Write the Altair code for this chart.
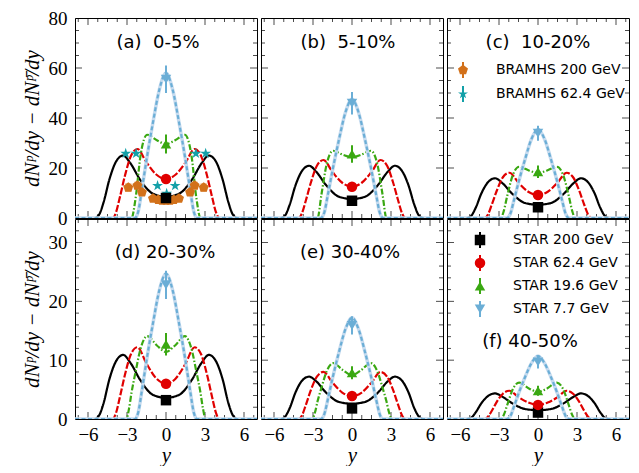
import altair as alt
import pandas as pd

panel_ids = ["a", "b", "c", "d", "e", "f"]
panel_text = ["(a)\u00a0 0-5%", "(b)\u00a0 5-10%", "(c)\u00a0 10-20%",
              "(d) 20-30%", "(e) 30-40%", "(f) 40-50%"]
energies = ["200", "62.4", "19.6", "7.7"]

knots_200 = [0, 1, 2, 2.75, 3.3, 3.85, 4.35, 4.8, 5.15, 5.5, 7]
curve_200 = [
    [8.5, 9.7, 15.4, 22.0, 25.0, 22.5, 15.5, 6.3, 1.3, 0, 0],
    [7.6, 8.5, 13.2, 18.5, 20.9, 18.8, 13.0, 5.2, 1.0, 0, 0],
    [5.3, 6.0, 9.8, 14.0, 15.9, 14.3, 9.9, 4.0, 0.8, 0, 0],
    [3.6, 4.1, 6.7, 9.6, 10.9, 9.8, 6.8, 2.7, 0.6, 0, 0],
    [2.6, 2.9, 4.5, 6.4, 7.2, 6.5, 4.5, 1.8, 0.4, 0, 0],
    [1.5, 1.7, 2.7, 3.8, 4.35, 3.9, 2.7, 1.1, 0.2, 0, 0],
]
knots_62 = [0, 0.75, 1.5, 2.2, 2.7, 3.15, 3.55, 3.85, 4.1, 7]
curve_62 = [
    [15.6, 17.4, 22.2, 27.6, 24.8, 17.1, 8.3, 2.2, 0, 0],
    [12.5, 14.1, 18.4, 23.2, 20.9, 14.4, 7.0, 1.9, 0, 0],
    [9.2, 10.5, 14.1, 18.1, 16.3, 11.2, 5.4, 1.4, 0, 0],
    [6.0, 6.9, 9.4, 12.2, 11.0, 7.6, 3.7, 1.0, 0, 0],
    [3.9, 4.5, 6.2, 8.0, 7.2, 5.0, 2.4, 0.6, 0, 0],
    [2.4, 2.8, 3.7, 4.8, 4.3, 3.0, 1.4, 0.4, 0, 0],
]
knots_19 = [0, 0.7, 1.45, 1.95, 2.35, 2.65, 2.85, 3.05, 7]
curve_19 = [
    [29.6, 31.1, 33.3, 25.3, 7.5, 0, 0, 0, 0],
    [24.3, 25.3, 26.9, 21.5, 9.4, 0, 0, 0, 0],
    [18.0, 19.0, 20.5, 17.0, 9.2, 2.5, 0, 0, 0],
    [11.4, 12.5, 14.1, 12.0, 7.9, 4.5, 1.7, 0, 0],
    [7.45, 8.3, 9.5, 8.1, 5.3, 3.0, 1.1, 0, 0],
    [4.6, 5.2, 6.2, 5.0, 2.5, 0.6, 0, 0, 0],
]
knots_7 = [0, 0.5, 1.0, 1.5, 1.85, 2.15, 2.4, 7]
curve_7 = [
    [58, 51.6, 38.3, 23.2, 11.6, 2.3, 0, 0],
    [47.5, 42.3, 31.4, 19.0, 9.5, 1.9, 0, 0],
    [35.5, 31.6, 23.4, 14.2, 7.1, 1.4, 0, 0],
    [24.7, 22.0, 16.3, 9.9, 4.9, 1.0, 0, 0],
    [17.2, 15.3, 11.4, 6.9, 3.4, 0.7, 0, 0],
    [10.7, 9.5, 7.1, 4.3, 2.1, 0.4, 0, 0],
]

# STAR points at y = 0
star_200 = [8.0, 6.9, 4.3, 3.2, 1.8, 1.1]
star_200_err = [0.5, 0.5, 0.4, 0.3, 0.2, 0.15]
star_62 = [15.6, 12.5, 9.2, 6.0, 3.9, 2.4]
star_62_err = [1.0, 0.8, 0.6, 0.4, 0.3, 0.2]
star_19 = [29.6, 25.6, 18.5, 12.7, 7.85, 4.8]
star_19_err = [3.8, 3.5, 2.5, 1.9, 1.1, 0.85]
star_7 = [55.5, 45.9, 33.9, 22.8, 15.9, 9.7]
star_7_err = [5.5, 4.5, 3.0, 2.4, 1.55, 1.1]

# BRAHMS, 0-5% only
brahms200_x = [-2.9, -2.2, -1.85, -1.0, -0.6, -0.3, 0.0, 0.3, 0.6, 1.0, 1.85, 2.2, 2.9]
brahms200_y = [12.2, 13.0, 10.3, 7.8, 7.3, 7.0, 7.0, 7.0, 7.3, 7.8, 10.3, 13.0, 12.2]
brahms200_sys = [1.8, 1.6, 1.5, 1.0, 1.0, 1.0, 1.0, 1.0, 1.0, 1.0, 1.5, 1.6, 1.8]
brahms62_x = [-3.1, -2.3, -0.65, 0.05, 0.7, 2.3, 3.05]
brahms62_y = [25.8, 25.8, 12.9, 9.8, 12.9, 25.8, 25.8]

x_major = [-6, -3, 0, 3, 6]
x_minor = [-6.75, -5.25, -4.5, -3.75, -2.25, -1.5, -0.75,
           0.75, 1.5, 2.25, 3.75, 4.5, 5.25, 6.75]
y_major_top = [0, 20, 40, 60, 80]
y_minor_top = [5, 10, 15, 25, 30, 35, 45, 50, 55, 65, 70, 75]
y_major_bot = [0, 10, 20, 30]
y_minor_bot = [2, 4, 6, 8, 12, 14, 16, 18, 22, 24, 26, 28, 32]

colors = {"200": "#000000", "62.4": "#e00000", "19.6": "#3aa812", "7.7": "#6baed6"}
dashes = {"200": [1, 0], "62.4": [7, 2], "19.6": [6, 2, 1.5, 2], "7.7": [4, 2.5]}
shapes = {"200": "square", "62.4": "circle", "19.6": "triangle-up", "7.7": "triangle-down"}
orange = "#d2711a"
teal = "#13a0a8"
pentagon = "M0,-1L0.951,-0.309L0.588,0.809L-0.588,0.809L-0.951,-0.309Z"
star = ("M0,-1L0.2245,-0.309L0.951,-0.309L0.363,0.118L0.588,0.809L0,0.382"
        "L-0.588,0.809L-0.363,0.118L-0.951,-0.309L-0.2245,-0.309Z")

ytitle = "dNᵖ/dy − dNᵖ̄/dy"
W, H = 182, 200

rows = []
for e, knots, table in [("200", knots_200, curve_200), ("62.4", knots_62, curve_62),
                        ("19.6", knots_19, curve_19), ("7.7", knots_7, curve_7)]:
    for p, vals in zip(panel_ids, table):
        for k, v in zip(knots[::-1], vals[::-1]):
            if k > 0:
                rows.append({"panel": p, "energy": e, "x": -k, "val": v})
        for k, v in zip(knots, vals):
            rows.append({"panel": p, "energy": e, "x": k, "val": v})
curves = pd.DataFrame(rows)

star_rows = []
for e, vals, errs in [("200", star_200, star_200_err), ("62.4", star_62, star_62_err),
                      ("19.6", star_19, star_19_err), ("7.7", star_7, star_7_err)]:
    for p, v, s in zip(panel_ids, vals, errs):
        star_rows.append({"panel": p, "energy": e, "x": 0.0, "val": v,
                          "lo": v - s, "hi": v + s})
stars = pd.DataFrame(star_rows)

b200 = pd.DataFrame({"x": brahms200_x, "val": brahms200_y,
                     "x0": [x - 0.25 for x in brahms200_x],
                     "x1": [x + 0.25 for x in brahms200_x],
                     "lo": [y - s for y, s in zip(brahms200_y, brahms200_sys)],
                     "hi": [y + s for y, s in zip(brahms200_y, brahms200_sys)]})
b62 = pd.DataFrame({"x": brahms62_x, "val": brahms62_y})

xticks = pd.DataFrame({"pos": x_major + x_minor,
                       "len": [14] * len(x_major) + [8] * len(x_minor)})


def panel(i):
    p = panel_ids[i]
    top = i < 3
    left = i % 3 == 0
    ymax = 80 if top else 34
    xsc = alt.Scale(domain=[-7, 7], nice=False, zero=False)
    ysc = alt.Scale(domain=[0, ymax], nice=False)
    ymaj = y_major_top if top else y_major_bot
    ymin = y_minor_top if top else y_minor_bot
    yticks = pd.DataFrame({"pos": ymaj + ymin,
                           "len": [14] * len(ymaj) + [8] * len(ymin)})

    def X(f):
        if top:
            return alt.X(f, type="quantitative", scale=xsc, axis=None)
        return alt.X(f, type="quantitative", scale=xsc, title="y",
                     axis=alt.Axis(values=x_major, labelPadding=6, titlePadding=0))

    def Y(f):
        if left:
            return alt.Y(f, type="quantitative", scale=ysc, title=ytitle,
                         axis=alt.Axis(values=ymaj))
        return alt.Y(f, type="quantitative", scale=ysc, axis=None)

    layers = []
    cbase = alt.Chart(curves).transform_filter(alt.datum.panel == p)
    # inward ticks on all four sides
    for edge in ["0", str(ymax)]:
        layers.append(alt.Chart(xticks).transform_calculate(edge=edge).mark_tick(
            orient="vertical", clip=True, color="black", thickness=1).encode(
            x=X("pos"), y=Y("edge"), size=alt.Size("len:Q", scale=None)))
    for edge in ["-7", "7"]:
        layers.append(alt.Chart(yticks).transform_calculate(edge=edge).mark_tick(
            orient="horizontal", clip=True, color="black", thickness=1).encode(
            x=X("edge"), y=Y("pos"), size=alt.Size("len:Q", scale=None)))

    for e in energies:
        sub = cbase.transform_filter(alt.datum.energy == e)
        if e == "7.7":
            layers.append(sub.mark_line(color="#c6dbef", strokeWidth=3.5,
                                        interpolate="monotone", clip=True).encode(
                x=X("x"), y=Y("val")))
        layers.append(sub.mark_line(color=colors[e], strokeWidth=2.2,
                                    strokeDash=dashes[e], interpolate="monotone",
                                    clip=True).encode(x=X("x"), y=Y("val")))

    if p == "a":
        layers.append(alt.Chart(b200).mark_rect(color=orange, opacity=0.3).encode(
            x=X("x0"), x2="x1", y=Y("lo"), y2="hi"))
        layers.append(alt.Chart(b200).mark_point(
            shape=pentagon, filled=True, color=orange, size=110, opacity=1).encode(
            x=X("x"), y=Y("val")))
        layers.append(alt.Chart(b62).mark_point(
            shape=star, filled=True, color=teal, size=130, opacity=1).encode(
            x=X("x"), y=Y("val")))

    sbase = alt.Chart(stars).transform_filter(alt.datum.panel == p)
    for e in energies:
        sub = sbase.transform_filter(alt.datum.energy == e)
        layers.append(sub.mark_rule(color=colors[e], strokeWidth=2).encode(
            x=X("x"), y=Y("lo"), y2="hi"))
        layers.append(sub.mark_point(shape=shapes[e], filled=True, color=colors[e],
                                     size=110, opacity=1).encode(x=X("x"), y=Y("val")))

    label_pos = {"a": (83, 25), "b": (87, 25), "c": (91, 25),
                 "d": (90, 34), "e": (89, 34), "f": (83, 123)}
    lx, ly = label_pos[p]
    layers.append(alt.Chart(pd.DataFrame({"t": [panel_text[i]]})).mark_text(
        font="DejaVu Sans", fontSize=18, color="black", align="center",
        baseline="middle").encode(text="t:N", x=alt.value(lx), y=alt.value(ly)))

    if p == "c":
        entries = [("BRAMHS 200 GeV", orange, pentagon, 52),
                   ("BRAMHS 62.4 GeV", teal, star, 76)]
        for txt, col, shp, yy in entries:
            one = alt.Chart(pd.DataFrame({"t": [txt]}))
            layers.append(one.mark_rule(color=col, strokeWidth=2).encode(
                x=alt.value(16), y=alt.value(yy - 8), y2=alt.value(yy + 8)))
            layers.append(one.mark_point(
                shape=shp, filled=True, color=col, size=110, opacity=1).encode(
                x=alt.value(16), y=alt.value(yy)))
            layers.append(one.mark_text(
                font="DejaVu Sans", fontSize=14, color="black", align="left",
                baseline="middle").encode(text="t:N", x=alt.value(49), y=alt.value(yy)))
    if p == "f":
        for j, e in enumerate(energies):
            yy = 21 + 23 * j
            one = alt.Chart(pd.DataFrame({"t": ["STAR " + e + " GeV"]}))
            layers.append(one.mark_rule(color=colors[e], strokeWidth=2).encode(
                x=alt.value(33), y=alt.value(yy - 8), y2=alt.value(yy + 8)))
            layers.append(one.mark_point(
                shape=shapes[e], filled=True, color=colors[e], size=110, opacity=1).encode(
                x=alt.value(33), y=alt.value(yy)))
            layers.append(one.mark_text(
                font="DejaVu Sans", fontSize=14, color="black", align="left",
                baseline="middle").encode(text="t:N", x=alt.value(66), y=alt.value(yy)))

    return alt.layer(*layers).properties(width=W, height=H)


chart = alt.concat(*[panel(i) for i in range(6)], columns=3,
                   spacing={"row": 1, "column": 4}, bounds="flush").properties(
    padding={"left": 12, "top": 0, "right": 0, "bottom": 0}
).configure_view(
    stroke="black", strokeWidth=1
).configure_axis(
    grid=False, domain=False, ticks=False,
    labelFont="Liberation Serif", labelFontSize=19, labelColor="black", labelPadding=8,
    titleFont="Liberation Serif", titleFontSize=21, titleFontStyle="italic",
    titleFontWeight="normal", titleColor="black", titlePadding=6
)

chart.save("out.html", embed_options={"renderer": "svg", "actions": False})
